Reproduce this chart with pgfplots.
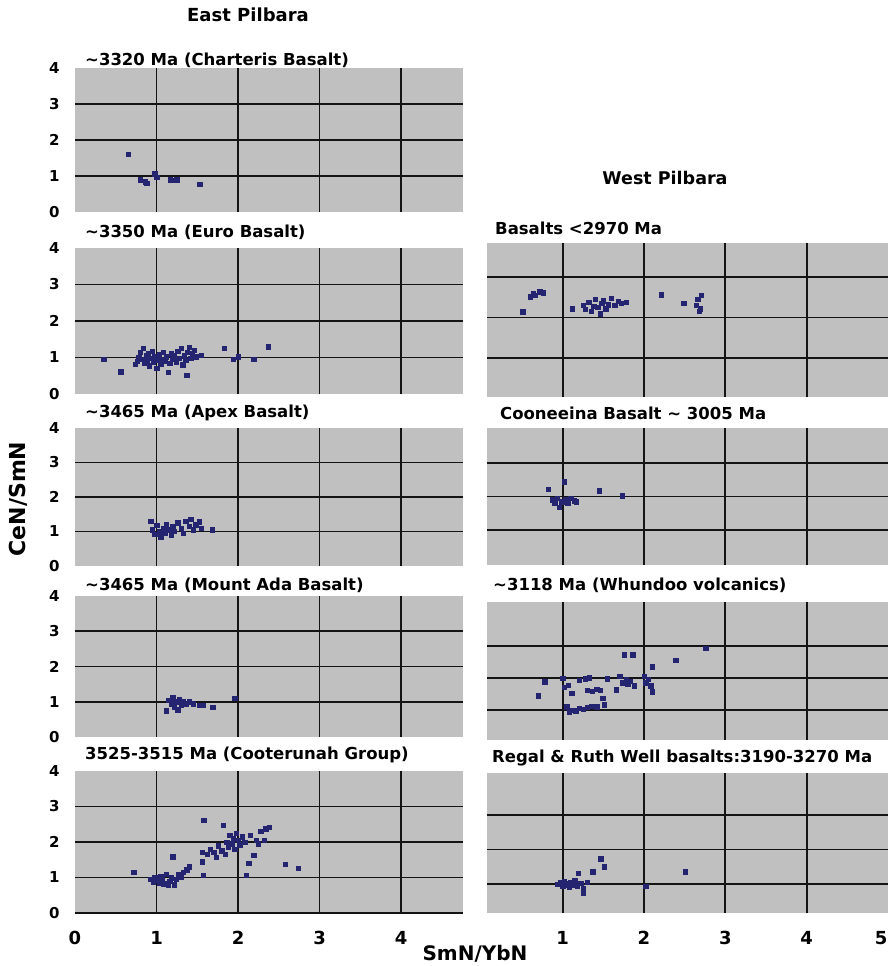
\documentclass[border=0pt]{standalone}
\usepackage{fontspec}
\setmainfont{DejaVu Sans}
\usepackage{pgfplots}
\pgfplotsset{compat=1.18}
\definecolor{panelgray}{RGB}{192,192,192}
\definecolor{navy}{RGB}{36,36,112}
\definecolor{gridc}{RGB}{20,20,20}
\newcommand{\ttl}{\bfseries\fontsize{16.5bp}{18bp}\selectfont}
\pgfplotsset{
  panel/.style={
    scale only axis, anchor=south west,
    axis background/.style={fill=panelgray},
    axis line style={draw=none}, tick style={draw=none},
    grid=major, major grid style={gridc, line width=1.7bp},
    xtick={1,2,3,4}, ytick={1,2,3},
    /pgf/number format/assume math mode=true,
    yticklabel style={font=\bfseries\fontsize{15bp}{16bp}\selectfont, xshift=-12bp},
    xticklabel style={font=\bfseries\fontsize{18bp}{19bp}\selectfont, yshift=-15bp},
    every extra x tick/.style={grid=none},
    every extra y tick/.style={grid=none},
  },
  leftp/.style={panel, xmin=0, xmax=4.76, ymin=0, ymax=4, width=388bp,
    extra y ticks={0,4}},
  rightp/.style={panel, xmin=0.07, xmax=5, width=401bp, yticklabels={}},
  pts/.style={only marks, mark=square*, mark size=2.2bp, mark options={draw=navy, fill=navy}},
}
\begin{document}
\begin{tikzpicture}
\useasboundingbox (0,0) rectangle (892bp,966bp);
% ---------- East Pilbara ----------
\begin{axis}[leftp, at={(75bp,754bp)}, height=144bp, xticklabels={}]
\addplot[pts] coordinates {(0.65,1.61) (0.80,0.90) (0.86,0.84) (0.88,0.80) (0.98,1.06) (1.00,0.97) (1.17,0.90) (1.22,0.88) (1.25,0.90) (1.53,0.78)};
\end{axis}
\begin{axis}[leftp, at={(75bp,572bp)}, height=146bp, xticklabels={}]
\addplot[pts] coordinates {(0.35,0.95) (0.56,0.61) (0.74,0.82) (0.76,0.90) (0.78,1.00) (0.80,1.15) (0.82,0.95) (0.84,1.25) (0.85,0.85) (0.87,1.05) (0.88,0.92) (0.90,1.10) (0.91,0.78) (0.93,0.98) (0.95,1.18) (0.96,0.88) (0.98,1.02) (1.00,0.70) (1.01,0.92) (1.03,1.08) (1.05,0.82) (1.06,0.96) (1.08,1.15) (1.10,0.90) (1.12,1.02) (1.14,0.60) (1.16,0.85) (1.18,1.10) (1.20,0.95) (1.22,1.05) (1.24,0.88) (1.26,1.18) (1.28,0.98) (1.30,1.25) (1.32,0.80) (1.34,1.05) (1.36,0.92) (1.37,0.52) (1.38,1.15) (1.40,1.28) (1.42,0.98) (1.44,1.10) (1.46,1.20) (1.48,1.02) (1.55,1.07) (1.83,1.25) (1.94,0.95) (2.00,1.02) (2.19,0.95) (2.37,1.30)};
\end{axis}
\begin{axis}[leftp, at={(75bp,400bp)}, height=138bp, xticklabels={}]
\addplot[pts] coordinates {(0.93,1.30) (0.95,1.05) (0.98,0.92) (1.00,1.18) (1.03,1.00) (1.05,0.85) (1.08,1.10) (1.10,0.95) (1.12,1.22) (1.15,1.05) (1.18,0.90) (1.20,1.15) (1.22,1.00) (1.26,1.25) (1.30,1.10) (1.33,0.95) (1.36,1.30) (1.40,1.15) (1.42,1.35) (1.45,1.05) (1.48,1.20) (1.52,1.28) (1.55,1.10) (1.68,1.05)};
\end{axis}
\begin{axis}[leftp, at={(75bp,229bp)}, height=141bp, xticklabels={}]
\addplot[pts] coordinates {(1.12,0.75) (1.15,1.05) (1.18,0.95) (1.20,1.12) (1.22,0.85) (1.24,1.00) (1.26,0.78) (1.28,1.08) (1.30,0.92) (1.33,1.02) (1.36,0.95) (1.40,1.00) (1.45,0.95) (1.52,0.90) (1.57,0.90) (1.69,0.85) (1.96,1.10)};
\end{axis}
\begin{axis}[panel, xmin=0, xmax=4.76, ymin=0, ymax=4, width=388bp, at={(75bp,53bp)}, height=142bp,
  ytick={0,1,2,3}, extra y ticks={4}, extra x ticks={0}]
\addplot[pts] coordinates {(0.72,1.15) (0.93,0.95) (0.96,0.88) (0.98,1.00) (1.00,0.92) (1.03,0.85) (1.05,1.02) (1.07,0.95) (1.09,0.82) (1.12,1.10) (1.14,0.78) (1.16,0.90) (1.18,1.00) (1.20,1.59) (1.22,0.80) (1.24,0.95) (1.27,1.08) (1.30,1.02) (1.33,1.15) (1.37,1.22) (1.40,1.30) (1.56,1.45) (1.56,1.72) (1.57,1.07) (1.58,2.62) (1.62,1.65) (1.66,1.80) (1.70,1.72) (1.73,1.58) (1.76,1.90) (1.80,1.75) (1.82,2.48) (1.84,1.65) (1.86,2.00) (1.88,1.85) (1.90,2.20) (1.92,1.95) (1.94,2.10) (1.96,1.80) (1.98,2.25) (2.00,2.05) (2.02,1.92) (2.05,2.15) (2.08,2.00) (2.10,1.07) (2.13,1.40) (2.15,2.20) (2.19,1.63) (2.22,2.05) (2.25,1.95) (2.28,2.30) (2.32,2.05) (2.34,2.38) (2.38,2.42) (2.58,1.37) (2.74,1.26)};
\end{axis}
% ---------- West Pilbara ----------
\begin{axis}[rightp, at={(487bp,569bp)}, height=154bp, ymin=0.04, ymax=3.84, xticklabels={}]
\addplot[pts] coordinates {(0.51,2.14) (0.60,2.51) (0.64,2.60) (0.66,2.55) (0.72,2.64) (0.76,2.61) (1.12,2.22) (1.25,2.30) (1.28,2.20) (1.32,2.38) (1.35,2.15) (1.38,2.28) (1.40,2.45) (1.43,2.25) (1.46,2.10) (1.48,2.35) (1.50,2.42) (1.53,2.22) (1.56,2.32) (1.60,2.48) (1.64,2.30) (1.68,2.40) (1.72,2.35) (1.78,2.38) (2.21,2.56) (2.49,2.35) (2.64,2.30) (2.66,2.45) (2.68,2.15) (2.70,2.55) (2.69,2.22)};
\end{axis}
\begin{axis}[rightp, at={(487bp,401bp)}, height=137bp, ymin=-0.04, ymax=4.04, xticklabels={}]
\addplot[pts] coordinates {(0.82,2.21) (0.87,1.90) (0.90,1.80) (0.93,1.95) (0.96,1.68) (0.99,1.85) (1.02,2.44) (1.03,1.92) (1.06,1.80) (1.10,1.95) (1.14,1.88) (1.17,1.85) (1.45,2.17) (1.73,2.02)};
\end{axis}
\begin{axis}[rightp, at={(487bp,226bp)}, height=138bp, ymin=0.06, ymax=4.37, xticklabels={}]
\addplot[pts] coordinates {(0.70,1.44) (0.78,1.88) (1.00,1.99) (1.02,1.70) (1.07,1.78) (1.11,1.52) (1.05,1.10) (1.08,0.95) (1.12,1.00) (1.16,0.98) (1.20,1.05) (1.25,1.02) (1.30,1.08) (1.35,1.12) (1.42,1.10) (1.49,1.37) (1.51,1.16) (1.20,1.92) (1.28,1.98) (1.33,2.00) (1.30,1.62) (1.36,1.58) (1.42,1.65) (1.46,1.62) (1.55,1.97) (1.66,1.63) (1.70,2.05) (1.73,1.85) (1.76,2.72) (1.78,1.95) (1.80,1.80) (1.83,1.90) (1.86,2.72) (1.88,1.75) (2.00,2.05) (2.02,1.85) (2.05,1.95) (2.08,1.75) (2.10,2.35) (2.10,1.57) (2.39,2.56) (2.76,2.93)};
\end{axis}
\begin{axis}[rightp, at={(487bp,53bp)}, height=140bp, ymin=0.16, ymax=4.22, extra x ticks={5},
  every extra x tick/.style={grid=none, xticklabel style={xshift=-7bp}}]
\addplot[pts] coordinates {(0.93,1.00) (0.97,1.05) (1.00,0.95) (1.02,1.08) (1.04,0.98) (1.06,1.02) (1.08,0.92) (1.10,1.05) (1.12,0.98) (1.15,1.10) (1.18,0.95) (1.19,1.31) (1.22,1.02) (1.25,0.73) (1.25,0.88) (1.30,1.05) (1.37,1.36) (1.47,1.74) (1.51,1.50) (2.02,0.94) (2.51,1.36)};
\end{axis}
% ---------- texts ----------
\node[inner sep=0] at (248bp,951bp) {\bfseries\fontsize{18bp}{20bp}\selectfont East Pilbara};
\node[inner sep=0] at (665bp,788bp) {\bfseries\fontsize{17.5bp}{20bp}\selectfont West Pilbara};
\node[anchor=west, inner sep=0] at (85bp,906bp) {\ttl \textasciitilde3320 Ma (Charteris Basalt)};
\node[anchor=west, inner sep=0] at (85bp,734bp) {\ttl \textasciitilde3350 Ma (Euro Basalt)};
\node[anchor=west, inner sep=0] at (85bp,553bp) {\ttl \textasciitilde3465 Ma (Apex Basalt)};
\node[anchor=west, inner sep=0] at (85bp,381bp) {\ttl \textasciitilde3465 Ma (Mount Ada Basalt)};
\node[anchor=west, inner sep=0] at (85bp,211bp) {\ttl 3525-3515 Ma (Cooterunah Group)};
\node[anchor=west, inner sep=0] at (495bp,738bp) {\ttl Basalts <2970 Ma};
\node[anchor=west, inner sep=0] at (500bp,553bp) {\ttl Cooneeina Basalt \textasciitilde{} 3005 Ma};
\node[anchor=west, inner sep=0] at (493bp,381bp) {\ttl \textasciitilde3118 Ma (Whundoo volcanics)};
\node[anchor=west, inner sep=0] at (492bp,208bp) {\ttl Regal \& Ruth Well basalts:3190-3270 Ma};
\node[inner sep=0, rotate=90] at (18bp,467bp) {\bfseries\fontsize{22bp}{24bp}\selectfont CeN/SmN};
\node[inner sep=0] at (475bp,12bp) {\bfseries\fontsize{20bp}{22bp}\selectfont SmN/YbN};
\end{tikzpicture}
\end{document}
